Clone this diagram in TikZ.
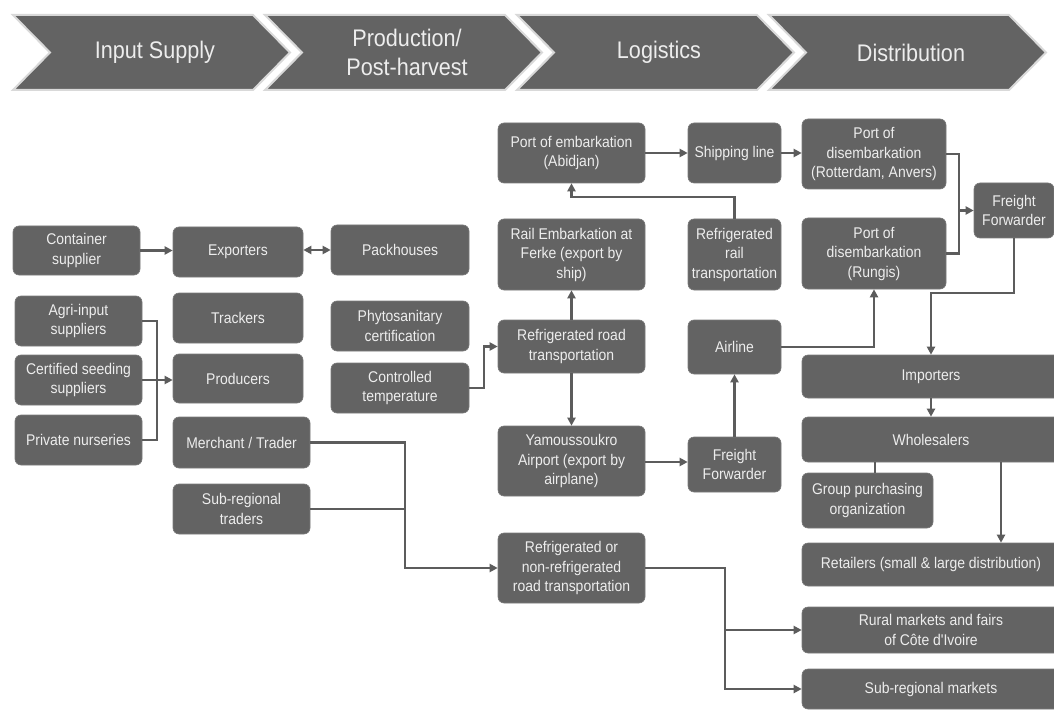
\documentclass[tikz,border=0pt]{standalone}
\usepackage{fontspec}
\setmainfont{Liberation Sans}
\newfontfamily\boxfont[FakeStretch=0.9]{Liberation Sans}
\usetikzlibrary{arrows.meta}
\definecolor{boxgray}{HTML}{636363}
\definecolor{linegray}{HTML}{5C5C5C}
\definecolor{txt}{HTML}{EDEDED}
\definecolor{rim}{HTML}{D9D9D9}
\begin{document}
\begin{tikzpicture}[x=1pt,y=-1pt,
  box/.style={draw=boxgray!85!white, line width=0.6pt, fill=boxgray, rounded corners=6pt,
    text=txt, align=center, font=\boxfont\fontsize{15.5}{19.5}\selectfont, inner sep=2pt},
  sz/.style 2 args={minimum width=#1pt, minimum height=#2pt},
  chev/.style={fill=boxgray, draw=rim, line width=2pt, line join=miter},
  chevtext/.style={text=txt, align=center, font=\boxfont\fontsize{24}{29}\selectfont},
  ln/.style={draw=linegray, line width=2.2pt},
  arr/.style={ln, -{Triangle[length=8pt,width=8pt]}},
  darr/.style={ln, {Triangle[length=8pt,width=8pt]}-{Triangle[length=8pt,width=8pt]}}]
\useasboundingbox (0,0) rectangle (1054,711);
\clip (0,0) rectangle (1054,711);
\fill[white] (0,0) rectangle (1054,711);

% chevrons
\foreach \i/\lbl in {0/{Input Supply},1/{Production/\\Post-harvest},2/{Logistics},3/{Distribution}}{
  \pgfmathsetmacro{\L}{13+252*\i}
  \draw[chev] (\L,15) -- (\L+240,15) -- (\L+277,52.5) -- (\L+240,90) -- (\L,90) -- (\L+37,52.5) -- cycle;
  \node[chevtext] (chev\i) at (\L+142,52.5) {\lbl};
}

% input supply / production column
\node[box, sz={127}{49}] (cont) at (76.5,250.5) {Container\\supplier};
\node[box, sz={130}{50}] (exp) at (238,252) {Exporters};
\node[box, sz={138}{50}] (pack) at (400,250) {Packhouses};
\node[box, sz={127}{50}] (agri) at (78.5,321) {Agri-input\\suppliers};
\node[box, sz={130}{50}] (track) at (238,318) {Trackers};
\node[box, sz={138}{50}] (phyto) at (400,326) {Phytosanitary\\certification};
\node[box, sz={127}{50}] (cert) at (78.5,380) {Certified seeding\\suppliers};
\node[box, sz={130}{49}] (prod) at (238,378.5) {Producers};
\node[box, sz={138}{50}] (ctrl) at (400,388) {Controlled\\temperature};
\node[box, sz={127}{50}] (priv) at (78.5,440) {Private nurseries};
\node[box, sz={137}{51}] (merch) at (241.5,442.5) {Merchant / Trader};
\node[box, sz={137}{50}] (subt) at (241.5,509) {Sub-regional\\traders};

% logistics
\node[box, sz={147}{60}] (pemb) at (571.5,153) {Port of embarkation\\(Abidjan)};
\node[box, sz={93}{60}] (ship) at (734.5,153) {Shipping line};
\node[box, sz={144}{70}] (pdisR) at (874,154) {Port of\\disembarkation\\(Rotterdam, Anvers)};
\node[box, sz={80}{55}] (ff1) at (1014,210.5) {Freight\\Forwarder};
\node[box, sz={147}{71}] (rail) at (571.5,254.5) {Rail Embarkation at\\Ferke (export by\\ship)};
\node[box, sz={93}{71}] (rrail) at (734.5,254.5) {Refrigerated\\rail\\transportation};
\node[box, sz={144}{71}] (pdisRu) at (874,253.5) {Port of\\disembarkation\\(Rungis)};
\node[box, sz={147}{53}] (rroad) at (571.5,346.5) {Refrigerated road\\transportation};
\node[box, sz={93}{54}] (airline) at (734.5,347) {Airline};
\node[box, sz={147}{70}] (yamo) at (571.5,461) {Yamoussoukro\\Airport (export by\\airplane)};
\node[box, sz={93}{55}] (ff2) at (734.5,464.5) {Freight\\Forwarder};
\node[box, sz={147}{70}] (rnr) at (571.5,568) {Refrigerated or\\non-refrigerated\\road transportation};

% distribution
\node[box, sz={258}{43}] (imp) at (931,376.5) {Importers};
\node[box, sz={258}{45}] (whole) at (931,439.5) {Wholesalers};
\node[box, sz={131}{55}] (gpo) at (867.5,500.5) {Group purchasing\\organization};
\node[box, sz={258}{43}] (ret) at (931,564.5) {Retailers (small \& large distribution)};
\node[box, sz={258}{46}] (rural) at (931,630) {Rural markets and fairs\\of Côte d'Ivoire};
\node[box, sz={258}{40}] (subm) at (931,689) {Sub-regional markets};

% helper coordinates
\coordinate (bx) at (157,0);
\coordinate (tx) at (405,0);
\coordinate (mx) at (725,0);
\coordinate (jx) at (959,0);
\coordinate (ry) at (0,197);
\coordinate (fbend) at (1014,293);

% connectors
\draw[arr] (cont) -- (cont -| exp.west);
\draw[darr] (exp.east |- pack.west) -- (pack.west);
\draw[ln] (agri.east) -| (bx |- priv.east) -- (priv.east);
\draw[arr] (cert.east) -- (cert.east -| prod.west);
\draw[arr] (ctrl.east) -- ++(15,0) |- (rroad.west);
\draw[arr] (rroad) -- (rail);
\draw[arr] (rrail.north) -- (rrail.north |- ry) -| (pemb.south);
\draw[arr] (pemb) -- (ship);
\draw[arr] (ship) -- (ship -| pdisR.west);
\draw[ln] (pdisR.east) -| (jx |- pdisRu.east) -- (pdisRu.east);
\draw[arr] (jx |- ff1.west) -- (ff1.west);
\draw[arr] (airline.east) -| (pdisRu.south);
\draw[arr] (ff1.south) -- (fbend) -| (imp.north);
\draw[arr] (imp) -- (whole);
\draw[ln] (gpo.north -| 875,0) -- (whole.south -| 875,0);
\draw[arr] ([xshift=70pt]whole.south) -- ([xshift=70pt]whole.south |- ret.north);
\draw[arr] (rroad) -- (yamo);
\draw[arr] (yamo.east |- 0,462) -- (ff2.west |- 0,462);
\draw[arr] (ff2) -- (airline);
\draw[arr] (merch.east) -| (tx |- rnr.west) -- (rnr.west);
\draw[ln] (subt.east) -- (subt.east -| tx);
\draw[arr] (rnr.east) -| (mx |- subm.west) -- (subm.west);
\draw[arr] (mx |- rural.west) -- (rural.west);
\end{tikzpicture}
\end{document}
